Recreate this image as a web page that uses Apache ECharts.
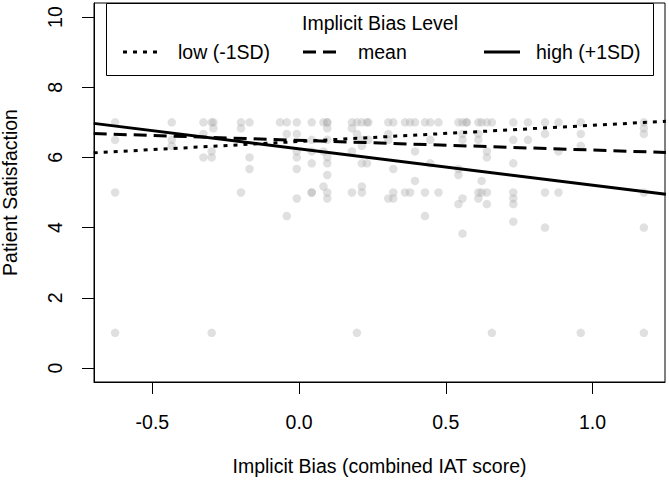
<!DOCTYPE html>
<html><head><meta charset="utf-8">
<script src="https://cdn.jsdelivr.net/npm/echarts@6/dist/echarts.min.js"></script>
<style>html,body{margin:0;padding:0;background:#fff}#c{width:669px;height:481px}</style>
</head><body><div id="c"></div>
<script>
const xTicks = [-0.5, 0.0, 0.5, 1.0];
const yTicks = [0, 2, 4, 6, 8, 10];
const ptX = [
 -0.627,-0.627,-0.627,-0.627,
 -0.434,-0.434,-0.434,
 -0.326,-0.326,-0.326,
 -0.298,-0.298,-0.298,-0.298,
 -0.292,-0.292,
 -0.198,-0.198,-0.198,
 -0.169,-0.169,-0.169,
 -0.065,
 -0.042,-0.042,-0.042,
 -0.008,-0.008,-0.008,-0.008,-0.008,-0.008,
 0.043,0.043,0.043,0.043,0.043,0.043,
 0.083,0.083,0.083,
 0.096,0.096,0.096,0.096,0.096,0.096,0.096,0.096,0.096,
 0.18,0.18,0.18,0.18,
 0.197,0.197,0.197,
 0.214,0.214,0.214,0.214,0.214,0.214,
 0.231,0.231,
 0.236,0.236,
 0.304,0.304,0.304,0.304,
 0.321,0.321,0.321,0.321,
 0.361,0.361,
 0.378,0.378,
 0.395,0.395,0.395,
 0.429,0.429,0.429,
 0.447,0.447,0.447,
 0.475,0.475,
 0.543,0.543,0.543,0.543,
 0.557,0.557,0.557,0.557,0.557,
 0.571,0.571,
 0.611,0.611,0.611,0.611,0.611,
 0.622,0.622,0.622,
 0.64,0.64,0.64,0.64,0.64,
 0.657,0.657,
 0.73,0.73,0.73,0.73,0.73,0.73,0.73,
 0.78,0.78,
 0.838,0.838,0.838,0.838,
 0.884,0.884,0.884,
 0.96,0.96,0.96,0.96,
 1.175,1.175,1.175,1.175,1.175,1.175
];
const ptY = [
 7,6.5,5,1,
 7,6.5,6.33,
 7,6.67,6,
 7,6.17,6,1,
 7,6.83,
 7,6.83,5,
 7,6,5.67,
 7,
 7,6.67,4.33,
 7,6.67,6.17,6,5.67,4.83,
 7,6.5,6.17,5.83,5,5,
 7,6.17,5.17,
 7,7,6.83,6.5,6,5.83,5.5,5,4.83,
 7,6.83,6.17,5,
 7,6.67,1,
 7,6.5,6.33,5.83,5.17,5,
 7,5.83,
 7,6.5,
 7,6.67,6.5,4.83,
 7,5.67,5,4.83,
 7,5,
 7,5,
 7,6.17,5.33,
 7,5,4.33,
 7,6.5,5.83,
 7,5,
 7,5.67,5.5,4.67,
 7,6.67,6.5,4.83,3.83,
 7,7,
 7,6.67,6.5,5,4.83,
 7,5.33,5,
 7,6.17,6,5,4.67,
 7,1,
 7,6.5,5.83,5,4.83,4.67,4.17,
 7,6.5,
 7,6.67,5,4,
 7,6.17,5,
 7,6.67,6.33,1,
 7,6.83,6.67,5,4,1
];
const lineX = [-0.7, 1.25];
const lowY = [6.13, 7.03];
const meanY = [6.68, 6.14];
const highY = [6.97, 4.95];
const lineNames = ['low (-1SD)', 'mean', 'high (+1SD)'];
const legendTitle = 'Implicit Bias Level';
const xTitle = 'Implicit Bias (combined IAT score)';
const yTitle = 'Patient Satisfaction';

const FONT = '"Liberation Sans", Arial, Helvetica, sans-serif';
const FS = 19.5;
const dashes = [[4, 6], [13, 7], 'solid'];
const lineVals = [lowY, meanY, highY];

const chart = echarts.init(document.getElementById('c'), null, {renderer: 'svg'});
const scatterData = ptX.map((x, i) => [x, ptY[i]]);

const legendGraphics = [
  {type: 'rect', shape: {x: 106.5, y: 3.5, width: 547, height: 72},
   style: {fill: '#fff', stroke: '#000', lineWidth: 1}, z: 100},
  {type: 'text', x: 380, y: 23, z: 101,
   style: {text: legendTitle, fontSize: FS, fontFamily: FONT, fill: '#000', align: 'center', verticalAlign: 'middle'}}
];
const legIcon = [[123, 157], [303, 339], [484, 520]];
const legText = [178, 358, 536];
lineNames.forEach((n, i) => {
  legendGraphics.push({type: 'line', z: 101,
    shape: {x1: legIcon[i][0], y1: 52, x2: legIcon[i][1], y2: 52},
    style: {stroke: '#000', lineWidth: 3, lineDash: dashes[i] === 'solid' ? null : dashes[i]}});
  legendGraphics.push({type: 'text', x: legText[i], y: 52, z: 101,
    style: {text: n, fontSize: FS, fontFamily: FONT, fill: '#000', align: 'left', verticalAlign: 'middle'}});
});

const series = [{
  type: 'scatter', data: scatterData, symbol: 'circle', symbolSize: 8.5,
  itemStyle: {color: 'rgba(170,170,170,0.45)'}, z: 2, silent: true
}];
lineNames.forEach((n, i) => {
  series.push({
    type: 'line', name: n, data: lineX.map((x, j) => [x, lineVals[i][j]]),
    showSymbol: false, symbol: 'none', clip: true, z: 3, silent: true,
    lineStyle: {color: '#000', width: 3, type: dashes[i], cap: 'butt'}
  });
});

chart.setOption({
  animation: false,
  backgroundColor: '#fff',
  textStyle: {fontFamily: FONT},
  grid: {left: 94, right: 4, top: 3, bottom: 99, show: true, borderColor: '#000', borderWidth: 1,
    backgroundColor: 'transparent', containLabel: false, outerBoundsMode: 'none'},
  xAxis: {
    type: 'value', min: -0.699, max: 1.247,
    name: xTitle, nameLocation: 'middle', nameGap: 74, nameMoveOverlap: false,
    nameTextStyle: {fontSize: FS, color: '#000', fontFamily: FONT},
    axisLine: {show: true, onZero: false, lineStyle: {color: '#000', width: 1}},
    splitLine: {show: false},
    axisTick: {show: true, length: 12, inside: false, customValues: xTicks, lineStyle: {color: '#000', width: 1}},
    axisLabel: {customValues: xTicks, fontSize: FS, color: '#000', fontFamily: FONT, margin: 30,
      formatter: v => v.toFixed(1)}
  },
  yAxis: {
    type: 'value', min: -0.4, max: 10.4,
    name: yTitle, nameLocation: 'middle', nameGap: 74, nameRotate: 90, nameMoveOverlap: false,
    nameTextStyle: {fontSize: FS, color: '#000', fontFamily: FONT},
    axisLine: {show: true, onZero: false, lineStyle: {color: '#000', width: 1}},
    splitLine: {show: false},
    axisTick: {show: true, length: 12, inside: false, customValues: yTicks, lineStyle: {color: '#000', width: 1}},
    axisLabel: {customValues: yTicks, rotate: 90, fontSize: FS, color: '#000', fontFamily: FONT, margin: 29}
  },
  graphic: legendGraphics,
  series: series
});
</script></body></html>
